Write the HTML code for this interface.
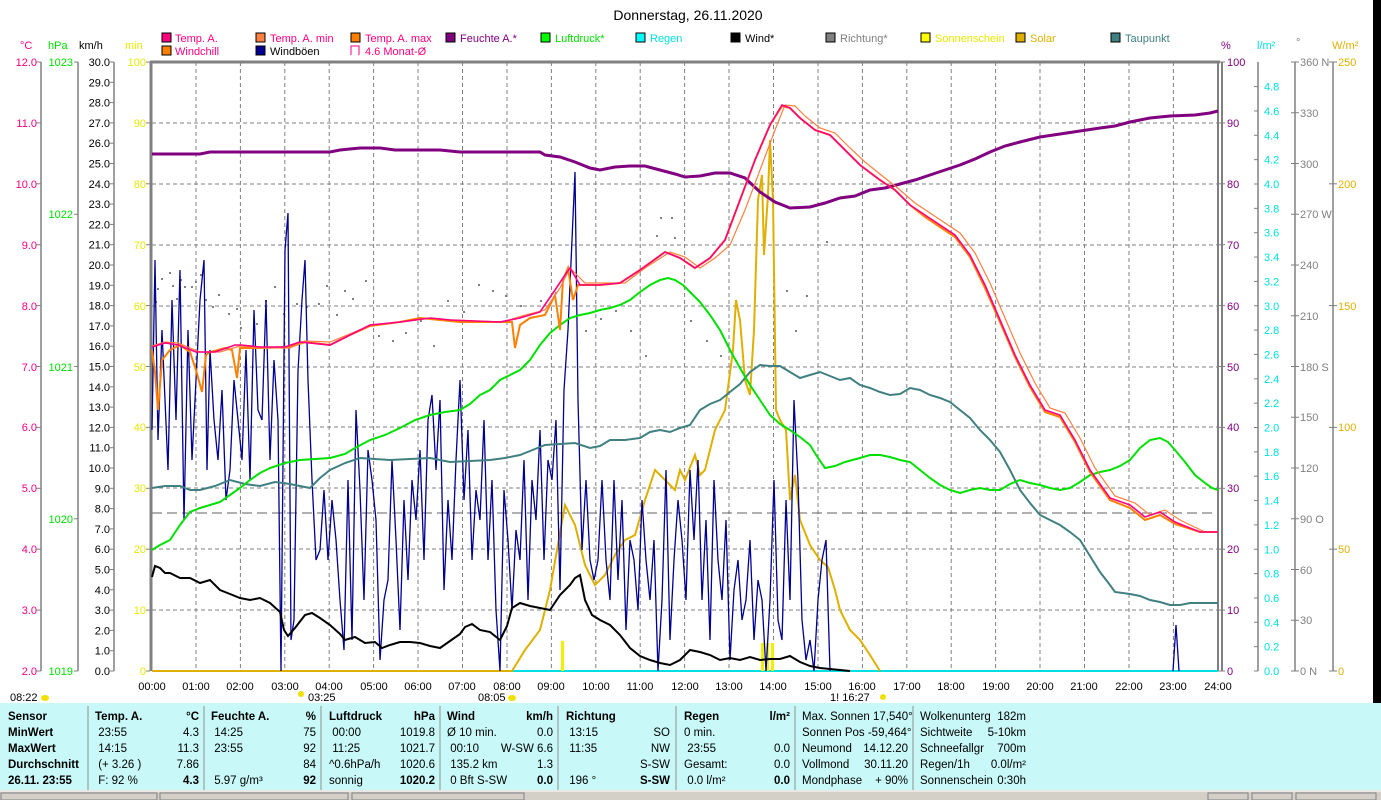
<!DOCTYPE html>
<html><head><meta charset="utf-8"><style>
body{margin:0;background:#fff;width:1381px;height:800px;overflow:hidden;font-family:"Liberation Sans",sans-serif}
svg{position:absolute;left:0;top:0}
.t{position:absolute;font-size:11.5px;white-space:nowrap;line-height:16px}
.b{font-weight:bold}
</style></head><body>
<svg width="1381" height="800" font-family="Liberation Sans, sans-serif" font-size="11">
<rect x="1373" y="0" width="8" height="703" fill="#000"/>
<text x="688" y="20" font-size="14" text-anchor="middle">Donnerstag, 26.11.2020</text>
<g font-size="11">
<rect x="162" y="33" width="9" height="9" fill="#ff0080" stroke="#000"/><text x="175" y="42" fill="#ff0080">Temp. A.</text>
<rect x="256" y="33" width="9" height="9" fill="#ff8040" stroke="#000"/><text x="270" y="42" fill="#ff0080">Temp. A. min</text>
<rect x="351" y="33" width="9" height="9" fill="#ff8000" stroke="#000"/><text x="365" y="42" fill="#ff0080">Temp. A. max</text>
<rect x="446" y="33" width="9" height="9" fill="#800080" stroke="#000"/><text x="460" y="42" fill="#800080">Feuchte A.*</text>
<rect x="541" y="33" width="9" height="9" fill="#00ff00" stroke="#000"/><text x="555" y="42" fill="#00e000">Luftdruck*</text>
<rect x="636" y="33" width="9" height="9" fill="#00ffff" stroke="#000"/><text x="650" y="42" fill="#00e0e0">Regen</text>
<rect x="731" y="33" width="9" height="9" fill="#000" stroke="#000"/><text x="745" y="42">Wind*</text>
<rect x="826" y="33" width="9" height="9" fill="#808080" stroke="#000"/><text x="840" y="42" fill="#808080">Richtung*</text>
<rect x="921" y="33" width="9" height="9" fill="#ffff00" stroke="#000"/><text x="935" y="42" fill="#e8e800">Sonnenschein</text>
<rect x="1016" y="33" width="9" height="9" fill="#e0b000" stroke="#000"/><text x="1030" y="42" fill="#e0b000">Solar</text>
<rect x="1111" y="33" width="9" height="9" fill="#408080" stroke="#000"/><text x="1125" y="42" fill="#408080">Taupunkt</text>
<rect x="162" y="46" width="9" height="9" fill="#ff8000" stroke="#000"/><text x="175" y="55" fill="#ff0080">Windchill</text>
<rect x="256" y="46" width="9" height="9" fill="#000090" stroke="#000"/><text x="270" y="55">Windböen</text>
<path d="M351 55V46h8v9" fill="none" stroke="#ff0080"/><text x="365" y="55" fill="#ff0080">4.6 Monat-Ø</text>
</g>
<text x="20" y="49" fill="#ff0080">°C</text><text x="48" y="49" fill="#00e000">hPa</text><text x="79" y="49">km/h</text><text x="125" y="49" fill="#e8e800">min</text>
<text x="1221" y="49" fill="#800080">%</text><text x="1257" y="49" fill="#00e0e0">l/m²</text><text x="1296" y="46" fill="#808080">°</text><text x="1332" y="49" fill="#e0b000">W/m²</text>
<g stroke="#808080" stroke-width="1.5">
<line x1="41" y1="62" x2="41" y2="671"/><line x1="78" y1="62" x2="78" y2="671"/><line x1="114" y1="62" x2="114" y2="671"/>
<line x1="1258" y1="62" x2="1258" y2="671"/><line x1="1295" y1="62" x2="1295" y2="671"/><line x1="1333" y1="62" x2="1333" y2="671"/>
</g>
<g id="ticks" stroke="#808080"></g>
<g stroke="#808080" stroke-dasharray="4,3">
<line x1="196" y1="62" x2="196" y2="671"/><line x1="240.4" y1="62" x2="240.4" y2="671"/><line x1="284.8" y1="62" x2="284.8" y2="671"/><line x1="329.2" y1="62" x2="329.2" y2="671"/><line x1="373.6" y1="62" x2="373.6" y2="671"/><line x1="418" y1="62" x2="418" y2="671"/><line x1="462.5" y1="62" x2="462.5" y2="671"/><line x1="507" y1="62" x2="507" y2="671"/><line x1="551.4" y1="62" x2="551.4" y2="671"/><line x1="595.8" y1="62" x2="595.8" y2="671"/><line x1="640.2" y1="62" x2="640.2" y2="671"/><line x1="684.6" y1="62" x2="684.6" y2="671"/><line x1="729" y1="62" x2="729" y2="671"/><line x1="773.5" y1="62" x2="773.5" y2="671"/><line x1="818" y1="62" x2="818" y2="671"/><line x1="862.4" y1="62" x2="862.4" y2="671"/><line x1="906.8" y1="62" x2="906.8" y2="671"/><line x1="951.2" y1="62" x2="951.2" y2="671"/><line x1="995.6" y1="62" x2="995.6" y2="671"/><line x1="1040" y1="62" x2="1040" y2="671"/><line x1="1084.5" y1="62" x2="1084.5" y2="671"/><line x1="1129" y1="62" x2="1129" y2="671"/><line x1="1173.4" y1="62" x2="1173.4" y2="671"/>
<line x1="152" y1="123" x2="1218" y2="123"/><line x1="152" y1="184" x2="1218" y2="184"/><line x1="152" y1="245" x2="1218" y2="245"/><line x1="152" y1="306" x2="1218" y2="306"/><line x1="152" y1="367" x2="1218" y2="367"/><line x1="152" y1="427" x2="1218" y2="427"/><line x1="152" y1="488" x2="1218" y2="488"/><line x1="152" y1="549" x2="1218" y2="549"/><line x1="152" y1="610" x2="1218" y2="610"/>
</g>
<line x1="152" y1="513" x2="1218" y2="513" stroke="#606060" stroke-dasharray="10,5"/>
<line x1="150" y1="62" x2="1220" y2="62" stroke="#808080" stroke-width="3"/>
<line x1="151" y1="62" x2="151" y2="671" stroke="#808080" stroke-width="3"/>
<line x1="1218" y1="62" x2="1218" y2="671" stroke="#808080" stroke-width="2"/>
<line x1="1222" y1="62" x2="1222" y2="671" stroke="#808080" stroke-width="2"/>
<g fill="#808080">
<rect x="155" y="301" width="2" height="2"/><rect x="157" y="288" width="2" height="2"/><rect x="161" y="278" width="2" height="2"/><rect x="169" y="272" width="2" height="2"/><rect x="172" y="285" width="2" height="2"/><rect x="176" y="298" width="2" height="2"/><rect x="180" y="279" width="2" height="2"/><rect x="184" y="286" width="2" height="2"/><rect x="191" y="286" width="2" height="2"/><rect x="195" y="281" width="2" height="2"/><rect x="200" y="274" width="2" height="2"/><rect x="205" y="299" width="2" height="2"/><rect x="212" y="306" width="2" height="2"/><rect x="218" y="294" width="2" height="2"/><rect x="228" y="313" width="2" height="2"/><rect x="236" y="308" width="2" height="2"/><rect x="240" y="327" width="2" height="2"/><rect x="256" y="323" width="2" height="2"/><rect x="265" y="300" width="2" height="2"/><rect x="274" y="286" width="2" height="2"/><rect x="283" y="313" width="2" height="2"/><rect x="296" y="303" width="2" height="2"/><rect x="306" y="306" width="2" height="2"/><rect x="318" y="303" width="2" height="2"/><rect x="326" y="285" width="2" height="2"/><rect x="336" y="314" width="2" height="2"/><rect x="344" y="290" width="2" height="2"/><rect x="352" y="298" width="2" height="2"/><rect x="365" y="280" width="2" height="2"/><rect x="378" y="335" width="2" height="2"/><rect x="392" y="340" width="2" height="2"/><rect x="405" y="332" width="2" height="2"/><rect x="420" y="320" width="2" height="2"/><rect x="433" y="345" width="2" height="2"/><rect x="447" y="300" width="2" height="2"/><rect x="463" y="311" width="2" height="2"/><rect x="478" y="284" width="2" height="2"/><rect x="492" y="290" width="2" height="2"/><rect x="505" y="295" width="2" height="2"/><rect x="520" y="305" width="2" height="2"/><rect x="540" y="300" width="2" height="2"/><rect x="555" y="292" width="2" height="2"/><rect x="585" y="330" width="2" height="2"/><rect x="600" y="318" width="2" height="2"/><rect x="615" y="310" width="2" height="2"/><rect x="630" y="330" width="2" height="2"/><rect x="645" y="355" width="2" height="2"/><rect x="660" y="217" width="2" height="2"/><rect x="671" y="217" width="2" height="2"/><rect x="656" y="235" width="2" height="2"/><rect x="674" y="237" width="2" height="2"/><rect x="690" y="320" width="2" height="2"/><rect x="706" y="340" width="2" height="2"/><rect x="720" y="355" width="2" height="2"/><rect x="786" y="290" width="2" height="2"/><rect x="795" y="330" width="2" height="2"/><rect x="806" y="295" width="2" height="2"/><rect x="826" y="241" width="2" height="2"/>
</g>
<line x1="152" y1="671" x2="1218" y2="671" stroke="#00e0e0" stroke-width="2"/>
<g fill="#f0f000"><rect x="561" y="641" width="3" height="30"/><rect x="761" y="643" width="3" height="28"/><rect x="766" y="643" width="3" height="28"/><rect x="771" y="643" width="3" height="28"/></g>
<polyline fill="none" stroke="#e0b000" stroke-width="2" points="152,671 512,671 525,650 540,630 550,590 557,550 565,505 575,525 585,565 595,585 605,575 615,555 625,540 635,535 645,500 655,470 665,480 675,490 680,470 685,480 695,455 700,475 705,470 715,430 725,410 729,380 733,350 736,300 740,320 745,380 750,395 754,330 758,200 762,175 764,255 768,195 770,140 773,200 776,410 780,420 786,430 790,500 795,475 800,520 810,545 820,560 828,567 835,590 840,610 850,630 860,640 870,655 880,671"/>
<polyline fill="none" stroke="#000090" stroke-width="1.3" points="152,430 155,260 158,440 162,330 165,400 168,470 172,300 176,420 180,270 184,520 188,330 192,460 196,380 200,300 204,260 207,470 210,350 214,420 218,460 222,390 226,500 230,470 234,380 238,420 242,460 246,350 250,480 254,310 258,410 262,420 266,300 270,460 274,360 278,420 281,671 285,250 288,213 291,640 294,620 298,371 302,300 305,260 308,380 312,480 316,560 320,550 324,490 328,560 332,500 336,540 340,600 344,650 348,480 352,640 356,410 360,490 364,600 368,450 372,480 376,520 380,660 384,600 388,580 392,460 396,540 400,630 404,500 408,580 412,480 416,520 420,450 424,560 428,420 432,395 436,470 440,400 444,590 448,500 452,560 456,460 460,380 464,500 468,430 472,560 476,490 480,520 484,420 488,560 492,480 496,610 500,671 504,490 508,540 512,610 516,530 520,560 524,460 528,600 532,480 536,520 540,430 544,560 548,460 552,480 556,420 560,590 564,390 568,330 572,240 575,172 578,400 582,550 586,480 590,560 594,580 598,560 602,480 606,560 610,600 614,480 618,580 622,500 626,630 630,540 634,560 638,610 642,500 646,560 650,600 654,540 658,671 662,600 666,470 670,640 674,560 678,500 682,540 686,600 690,470 694,540 698,460 702,600 706,520 710,640 714,480 718,560 722,600 726,520 730,660 734,590 738,560 742,620 746,600 750,540 754,640 758,580 762,600 766,671 770,600 774,480 778,620 782,640 786,500 790,600 794,400 798,480 802,620 806,660 810,640 814,671 818,600 822,560 826,540 830,671"/>
<polyline fill="none" stroke="#000090" stroke-width="1.3" points="1173,671 1176,625 1179,671"/>
<polyline fill="none" stroke="#000" stroke-width="2" points="152,577 155,566 160,568 165,573 170,573 180,578 190,578 200,583 210,580 220,590 230,594 240,598 250,600 260,598 270,603 280,612 284,630 288,636 295,628 305,615 312,613 320,618 330,625 340,634 345,640 355,637 365,643 375,642 382,648 390,645 400,642 410,642 420,643 430,646 440,648 450,641 460,634 465,627 472,624 480,630 490,632 500,640 507,626 512,608 520,603 530,606 540,608 550,610 560,595 570,585 575,578 580,575 585,600 592,615 600,620 610,625 620,635 630,648 640,656 650,660 660,663 670,665 680,660 690,650 700,652 710,655 720,660 730,658 740,660 750,657 760,660 770,659 780,659 790,656 800,662 810,666 820,668 830,669 850,671"/>
<polyline fill="none" stroke="#408080" stroke-width="2" points="152,488 165,486 180,486 190,490 200,490 215,486 230,480 245,484 260,486 275,482 290,484 310,488 320,478 330,470 345,463 360,458 375,459 390,460 410,459 430,458 450,462 470,461 490,460 505,458 520,455 535,449 545,445 560,444 575,443 590,448 600,446 610,440 625,440 640,438 650,432 660,430 670,432 680,428 690,425 700,410 710,404 720,400 730,392 740,384 750,372 760,365 770,366 780,366 790,372 800,378 810,375 820,372 830,376 840,380 850,378 860,385 870,388 880,392 890,395 900,394 910,388 920,390 930,395 940,398 950,402 960,410 970,418 980,430 990,440 1000,452 1010,470 1020,490 1030,503 1040,515 1050,520 1060,525 1070,532 1080,540 1090,556 1100,572 1110,585 1115,592 1130,594 1140,596 1150,600 1160,602 1170,605 1180,605 1190,603 1200,603 1218,603"/>
<polyline fill="none" stroke="#00e000" stroke-width="2" points="152,550 160,545 170,540 180,525 190,512 200,508 210,505 220,502 230,495 240,488 250,480 260,473 270,468 285,463 300,460 315,459 330,458 345,454 355,448 370,440 385,435 400,428 415,420 430,415 445,412 460,410 470,404 480,395 490,390 500,380 510,375 520,370 530,360 540,345 550,333 560,325 570,318 580,315 590,313 600,310 610,308 620,305 630,300 640,292 650,285 660,280 668,278 675,280 683,285 690,292 700,302 710,315 720,330 730,350 740,368 750,385 760,400 770,415 780,424 790,430 800,437 810,445 818,458 825,468 835,466 845,462 860,458 870,455 880,455 890,457 900,460 910,462 920,470 930,478 940,485 950,490 960,493 970,490 980,488 990,490 1000,490 1010,484 1020,480 1030,483 1040,485 1050,488 1060,490 1070,488 1080,482 1090,475 1100,472 1110,470 1120,466 1130,460 1140,448 1150,440 1160,438 1168,442 1175,450 1185,462 1195,475 1205,483 1212,488 1218,490"/>
<polyline fill="none" stroke="#800080" stroke-width="3" points="152,154 180,154 200,154 210,152 240,152 290,152 300,152 310,152 330,152 340,150 360,148 380,148 395,150 420,150 440,150 460,152 480,152 500,152 520,152 540,152 545,155 560,157 575,162 590,168 600,170 615,167 630,166 645,166 660,170 675,174 685,177 700,176 715,173 730,173 745,178 760,192 775,202 790,208 810,207 825,203 840,198 855,196 870,190 885,188 900,184 915,180 930,175 945,170 960,165 975,159 990,152 1005,146 1020,142 1040,137 1060,134 1080,131 1100,128 1115,126 1130,122 1150,118 1170,116 1195,115 1210,113 1218,111"/>
<polyline fill="none" stroke="#ff8000" stroke-width="2" points="152,350 155,372 158,410 162,360 170,350 180,345 190,352 196,370 202,392 206,355 210,352 225,348 232,350 237,378 240,348 260,348 290,347 305,342 330,345 350,335 370,326 400,322 420,318 440,320 460,322 500,322 512,322 515,348 520,325 530,318 545,315 555,295 560,330 563,280 568,268 573,300 578,285 600,285 620,283 640,270 665,252 680,258 695,268 710,258 725,240 740,200 755,160 770,125 782,106 790,108 800,118 815,130 830,135 845,150 860,165 880,180 895,190 910,205 925,217 940,227 955,237 970,257 985,288 1000,322 1015,357 1030,387 1045,412 1060,417 1075,442 1090,472 1110,500 1130,508 1145,520 1160,515 1175,524 1200,532 1218,532"/>
<polyline fill="none" stroke="#ff8040" stroke-width="1.2" points="152,346 165,342 178,343 200,352 220,352 240,346 262,348 290,348 305,341 330,342 352,333 372,325 402,322 432,318 452,320 502,322 522,316 545,310 560,288 570,268 585,283 605,283 625,283 645,268 670,252 685,257 700,268 715,258 730,245 745,210 760,170 775,130 785,105 795,106 805,116 820,128 835,133 850,148 865,162 885,178 900,190 915,203 930,213 945,223 960,233 975,253 990,283 1005,318 1020,353 1035,383 1050,408 1065,413 1080,438 1095,468 1115,496 1135,503 1150,515 1165,510 1180,520 1205,532 1218,532"/>
<polyline fill="none" stroke="#ff0080" stroke-width="1.6" points="152,347 165,343 178,345 196,352 215,352 235,345 241,345 260,347 285,347 300,342 330,345 350,335 370,325 400,322 430,318 450,320 500,322 520,318 540,312 555,290 565,275 570,268 580,285 600,285 620,283 640,270 665,252 680,258 695,268 710,258 725,240 740,200 755,160 770,125 782,105 790,108 800,118 815,130 830,135 845,150 860,165 880,180 895,190 910,205 925,215 940,225 955,235 970,255 985,285 1000,320 1015,355 1030,385 1045,410 1060,415 1075,440 1090,470 1110,498 1130,505 1145,517 1160,512 1175,522 1200,532 1218,532"/>
<g font-size="11" text-anchor="middle">
<text x="152" y="690">00:00</text><text x="196" y="690">01:00</text><text x="240" y="690">02:00</text><text x="285" y="690">03:00</text><text x="329" y="690">04:00</text><text x="374" y="690">05:00</text><text x="418" y="690">06:00</text><text x="462" y="690">07:00</text><text x="507" y="690">08:00</text><text x="551" y="690">09:00</text><text x="596" y="690">10:00</text><text x="640" y="690">11:00</text><text x="685" y="690">12:00</text><text x="729" y="690">13:00</text><text x="773" y="690">14:00</text><text x="818" y="690">15:00</text><text x="862" y="690">16:00</text><text x="907" y="690">17:00</text><text x="951" y="690">18:00</text><text x="996" y="690">19:00</text><text x="1040" y="690">20:00</text><text x="1084" y="690">21:00</text><text x="1129" y="690">22:00</text><text x="1173" y="690">23:00</text><text x="1218" y="690">24:00</text>
</g>
<g font-size="11"><text x="10" y="701">08:22</text><text x="308" y="701">03:25</text><text x="478" y="701">08:05</text><text x="830" y="701">1! 16:27</text></g>
<ellipse cx="45" cy="698" rx="4" ry="3" fill="#f0e000"/><ellipse cx="512" cy="698" rx="4" ry="3" fill="#f0e000"/><circle cx="301" cy="694" r="3" fill="#f0e000"/><circle cx="883" cy="697" r="3" fill="#f0e000"/>
<g font-size="11" text-anchor="end" fill="#ff0080">
<text x="37" y="66">12.0</text><text x="37" y="127">11.0</text><text x="37" y="188">10.0</text><text x="37" y="249">9.0</text><text x="37" y="310">8.0</text><text x="37" y="371">7.0</text><text x="37" y="431">6.0</text><text x="37" y="492">5.0</text><text x="37" y="553">4.0</text><text x="37" y="614">3.0</text><text x="37" y="675">2.0</text>
</g>
<g font-size="11" text-anchor="end" fill="#00e000"><text x="73" y="66">1023</text><text x="73" y="218">1022</text><text x="73" y="371">1021</text><text x="73" y="523">1020</text><text x="73" y="675">1019</text></g>
<g font-size="11" text-anchor="end" id="kmh"></g>
<g font-size="11" text-anchor="end" fill="#e8e800"><text x="146" y="66">100</text><text x="146" y="127">90</text><text x="146" y="188">80</text><text x="146" y="249">70</text><text x="146" y="310">60</text><text x="146" y="371">50</text><text x="146" y="431">40</text><text x="146" y="492">30</text><text x="146" y="553">20</text><text x="146" y="614">10</text><text x="146" y="675">0</text></g>
<g font-size="11" fill="#800080"><text x="1227" y="66">100</text><text x="1227" y="127">90</text><text x="1227" y="188">80</text><text x="1227" y="249">70</text><text x="1227" y="310">60</text><text x="1227" y="371">50</text><text x="1227" y="431">40</text><text x="1227" y="492">30</text><text x="1227" y="553">20</text><text x="1227" y="614">10</text><text x="1227" y="675">0</text></g>
<g font-size="11" fill="#808080"><text x="1300" y="66">360 N</text><text x="1300" y="117">330</text><text x="1300" y="168">300</text><text x="1300" y="218">270 W</text><text x="1300" y="269">240</text><text x="1300" y="320">210</text><text x="1300" y="371">180 S</text><text x="1300" y="421">150</text><text x="1300" y="472">120</text><text x="1300" y="523">90 O</text><text x="1300" y="574">60</text><text x="1300" y="624">30</text><text x="1300" y="675">0 N</text></g>
<g font-size="11" fill="#e0b000"><text x="1338" y="66">250</text><text x="1338" y="188">200</text><text x="1338" y="310">150</text><text x="1338" y="431">100</text><text x="1338" y="553">50</text><text x="1338" y="675">0</text></g>
<g font-size="11" fill="#00e0e0" id="lm"></g>
<rect x="0" y="703" width="1381" height="87" fill="#c8f8f8"/>
<rect x="0" y="790" width="1381" height="10" fill="#d4d0c8"/>
<line x1="0" y1="791" x2="1381" y2="791" stroke="#fff"/>
<g stroke="#909090"><line x1="88" y1="706" x2="88" y2="790"/><line x1="204" y1="706" x2="204" y2="790"/><line x1="321" y1="706" x2="321" y2="790"/><line x1="440" y1="706" x2="440" y2="790"/><line x1="558" y1="706" x2="558" y2="790"/><line x1="676" y1="706" x2="676" y2="790"/><line x1="795" y1="706" x2="795" y2="790"/><line x1="913" y1="706" x2="913" y2="790"/></g>
<g stroke="#808080" fill="none"><rect x="1" y="793" width="156" height="7"/><rect x="160" y="793" width="188" height="7"/><rect x="352" y="793" width="172" height="7"/><rect x="1208" y="793" width="40" height="7"/><rect x="1252" y="793" width="40" height="7"/><rect x="1296" y="793" width="80" height="7"/></g>
</svg>
<script>
(function(){var g=document.getElementById('kmh'),s='';for(var i=0;i<=30;i++){var y=671-i*20.3;s+='<text x="110" y="'+(y+4).toFixed(1)+'">'+i.toFixed(1)+'</text>';}g.innerHTML=s;
var l=document.getElementById('lm'),t='';for(var j=0;j<=24;j++){var yy=671-j*24.35;t+='<text x="1264" y="'+(yy+4).toFixed(1)+'">'+(j*0.2).toFixed(1)+'</text>';}l.innerHTML=t;
var k=document.getElementById('ticks'),u='';for(var a=0;a<=10;a++){var y1=62+a*60.9;u+='<line x1="36" y1="'+y1+'" x2="41" y2="'+y1+'"/><line x1="146" y1="'+y1+'" x2="150" y2="'+y1+'"/><line x1="1218" y1="'+y1+'" x2="1225" y2="'+y1+'"/>';}
for(a=0;a<=30;a++){var y2=671-a*20.3;u+='<line x1="110" y1="'+y2+'" x2="114" y2="'+y2+'"/>';}
for(a=0;a<=4;a++){var y3=62+a*152.25;u+='<line x1="74" y1="'+y3+'" x2="78" y2="'+y3+'"/>';}
for(a=0;a<=24;a++){var y4=671-a*24.35;u+='<line x1="1254" y1="'+y4+'" x2="1258" y2="'+y4+'"/>';}
for(a=0;a<=12;a++){var y5=62+a*50.75;u+='<line x1="1291" y1="'+y5+'" x2="1299" y2="'+y5+'"/>';}
for(a=0;a<=5;a++){var y6=62+a*121.8;u+='<line x1="1329" y1="'+y6+'" x2="1337" y2="'+y6+'"/>';}
k.innerHTML=u;})();
</script>
<div class="t b" style="left:8px;top:709px">Sensor<br>MinWert<br>MaxWert<br>Durchschnitt<br>26.11. 23:55</div>
<div class="t" style="left:95px;top:709px;width:104px"><b>Temp. A.</b><span style="float:right" class="b">°C</span><br>&nbsp;23:55<span style="float:right">4.3</span><br>&nbsp;14:15<span style="float:right">11.3</span><br>&nbsp;(+ 3.26 )<span style="float:right">7.86</span><br>&nbsp;F: 92 %<span style="float:right" class="b">4.3</span></div>
<div class="t" style="left:211px;top:709px;width:105px"><b>Feuchte A.</b><span style="float:right" class="b">%</span><br>&nbsp;14:25<span style="float:right">75</span><br>&nbsp;23:55<span style="float:right">92</span><br>&nbsp;<span style="float:right">84</span><br>&nbsp;5.97 g/m³<span style="float:right" class="b">92</span></div>
<div class="t" style="left:329px;top:709px;width:106px"><b>Luftdruck</b><span style="float:right" class="b">hPa</span><br>&nbsp;00:00<span style="float:right">1019.8</span><br>&nbsp;11:25<span style="float:right">1021.7</span><br>^0.6hPa/h<span style="float:right">1020.6</span><br>sonnig<span style="float:right" class="b">1020.2</span></div>
<div class="t" style="left:447px;top:709px;width:106px"><b>Wind</b><span style="float:right" class="b">km/h</span><br>Ø 10 min.<span style="float:right">0.0</span><br>&nbsp;00:10<span style="float:right">W-SW 6.6</span><br>&nbsp;135.2 km<span style="float:right">1.3</span><br>&nbsp;0 Bft S-SW<span style="float:right" class="b">0.0</span></div>
<div class="t" style="left:566px;top:709px;width:104px"><b>Richtung</b><br>&nbsp;13:15<span style="float:right">SO</span><br>&nbsp;11:35<span style="float:right">NW</span><br>&nbsp;<span style="float:right">S-SW</span><br>&nbsp;196 °<span style="float:right" class="b">S-SW</span></div>
<div class="t" style="left:684px;top:709px;width:106px"><b>Regen</b><span style="float:right" class="b">l/m²</span><br>0 min.<br>&nbsp;23:55<span style="float:right">0.0</span><br>Gesamt:<span style="float:right">0.0</span><br>&nbsp;0.0 l/m²<span style="float:right" class="b">0.0</span></div>
<div class="t" style="left:802px;top:709px;width:106px">Max. Sonnen 17,540°<br>Sonnen Pos -59,464°<br>Neumond<span style="float:right">14.12.20</span><br>Vollmond<span style="float:right">30.11.20</span><br>Mondphase<span style="float:right">+ 90%</span></div>
<div class="t" style="left:920px;top:709px;width:106px">Wolkenunterg<span style="float:right">182m</span><br>Sichtweite<span style="float:right">5-10km</span><br>Schneefallgr<span style="float:right">700m</span><br>Regen/1h<span style="float:right">0.0l/m²</span><br>Sonnenschein<span style="float:right">0:30h</span></div>
</body></html>
